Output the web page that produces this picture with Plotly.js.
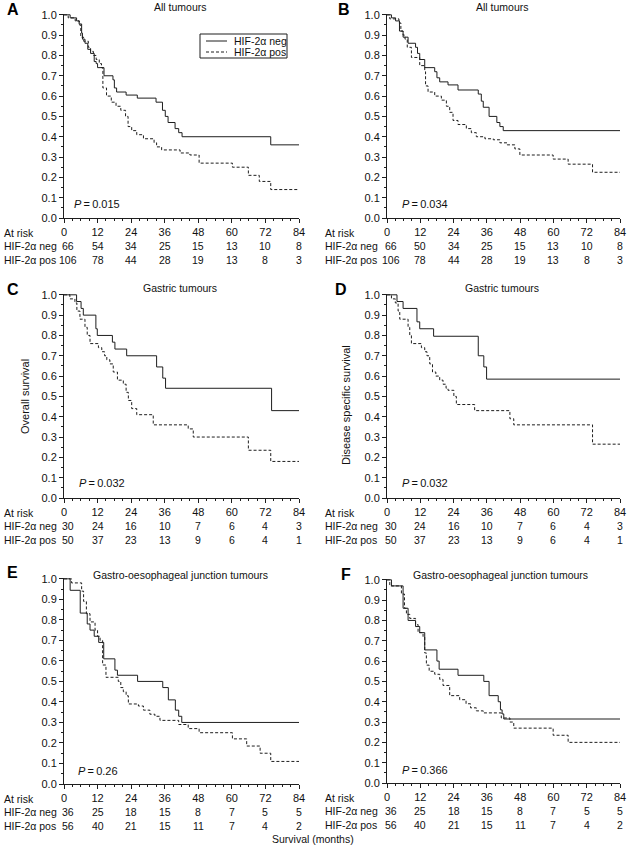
<!DOCTYPE html>
<html>
<head>
<meta charset="utf-8">
<script src="https://cdn.plot.ly/plotly-3.0.1.min.js"></script>
<style>html,body{margin:0;padding:0;background:#fff;}#chart{width:627px;height:850px;}</style>
</head>
<body>
<div id="chart"></div>
<script>
// ---------------- DATA ----------------
const riskMonths = [0, 12, 24, 36, 48, 60, 72, 84];
const seriesNames = ['HIF-2\u03b1 neg', 'HIF-2\u03b1 pos'];

const panelLetters = ['A', 'B', 'C', 'D', 'E', 'F'];
const panelTitles = ['All tumours', 'All tumours', 'Gastric tumours', 'Gastric tumours',
  'Gastro-oesophageal junction tumours', 'Gastro-oesophageal junction tumours'];
const pValues = ['0.015', '0.034', '0.032', '0.032', '0.26', '0.366'];
const yTitles = ['', '', 'Overall survival', 'Disease specific survival', '', ''];

// Panel A
const aNegT = [0, 2.2, 4.5, 5.4, 6.3, 6.6, 7.5, 8.5, 9.5, 10.8, 11.5, 12.0, 14.3, 17.5, 18.0, 18.8, 22.2, 26.2, 32.9, 35.2, 36.2, 37.2, 39.7, 41.0, 42.2, 73.9, 84];
const aNegS = [1, 0.985, 0.97, 0.955, 0.91, 0.88, 0.86, 0.83, 0.81, 0.77, 0.76, 0.74, 0.70, 0.68, 0.64, 0.62, 0.605, 0.59, 0.57, 0.53, 0.50, 0.47, 0.44, 0.42, 0.40, 0.36, 0.36];
const aPosT = [0, 1.5, 4.0, 5.5, 6.0, 7.0, 8.7, 9.5, 10.5, 11.5, 12.6, 13.4, 13.9, 15.2, 16.9, 18.6, 20.3, 22.0, 22.9, 24.2, 26.0, 28.4, 32.2, 33.1, 34.9, 41.5, 45.0, 48.3, 60.2, 65.9, 69.8, 73.9, 84];
const aPosS = [1, 0.985, 0.97, 0.95, 0.89, 0.87, 0.84, 0.82, 0.80, 0.78, 0.76, 0.74, 0.64, 0.60, 0.57, 0.55, 0.53, 0.50, 0.45, 0.43, 0.41, 0.39, 0.37, 0.35, 0.335, 0.32, 0.31, 0.27, 0.25, 0.21, 0.18, 0.14, 0.14];
// Panel B
const bNegT = [0, 1.6, 3.1, 4.5, 5.8, 7.6, 10.3, 11.0, 11.8, 13.6, 17.2, 18.0, 19.0, 22.0, 25.6, 32.9, 34.0, 34.7, 36.8, 39.6, 40.7, 41.9, 84];
const bNegS = [1, 0.985, 0.97, 0.92, 0.89, 0.86, 0.84, 0.81, 0.78, 0.74, 0.72, 0.69, 0.67, 0.655, 0.63, 0.61, 0.575, 0.545, 0.50, 0.47, 0.45, 0.43, 0.43];
const bPosT = [0, 1.0, 4.3, 5.0, 5.8, 6.5, 7.3, 8.8, 11.8, 13.6, 13.9, 14.8, 17.2, 19.6, 21.4, 22.6, 23.8, 25.6, 28.6, 30.4, 32.2, 35.3, 38.3, 40.7, 43.3, 46.1, 47.9, 59.9, 65.3, 74.1, 84];
const bPosS = [1, 0.98, 0.96, 0.92, 0.90, 0.88, 0.84, 0.79, 0.75, 0.72, 0.65, 0.62, 0.60, 0.58, 0.55, 0.52, 0.48, 0.46, 0.44, 0.42, 0.40, 0.39, 0.385, 0.37, 0.36, 0.34, 0.31, 0.29, 0.265, 0.225, 0.225];
// Panel C
const cNegT = [0, 4.5, 6.1, 6.9, 11.4, 11.9, 17.3, 18.2, 22.4, 33.1, 35.3, 36.3, 74.2, 84];
const cNegS = [1, 0.967, 0.933, 0.90, 0.833, 0.80, 0.767, 0.733, 0.70, 0.645, 0.59, 0.54, 0.43, 0.43];
const cPosT = [0, 2.1, 3.9, 4.6, 5.7, 7.5, 8.3, 9.3, 12.3, 13.5, 14.5, 15.3, 16.4, 17.6, 19.1, 21.2, 22.2, 23.0, 24.2, 26.0, 31.9, 44.4, 46.2, 65.9, 73.9, 84];
const cPosS = [1, 0.98, 0.96, 0.92, 0.88, 0.84, 0.80, 0.76, 0.74, 0.72, 0.70, 0.68, 0.66, 0.62, 0.58, 0.56, 0.52, 0.48, 0.44, 0.41, 0.36, 0.34, 0.30, 0.235, 0.18, 0.18];
// Panel D
const dNegT = [0, 3.6, 5.8, 10.8, 11.8, 16.8, 32.9, 34.9, 35.9, 84];
const dNegS = [1, 0.967, 0.933, 0.867, 0.833, 0.796, 0.70, 0.645, 0.585, 0.585];
const dPosT = [0, 1.6, 3.0, 4.0, 4.6, 7.6, 8.2, 8.8, 12.4, 13.6, 14.4, 15.4, 16.4, 17.6, 19.0, 20.2, 21.3, 22.0, 24.1, 25.0, 31.6, 44.3, 45.7, 74.1, 84];
const dPosS = [1, 0.98, 0.96, 0.92, 0.88, 0.84, 0.80, 0.76, 0.74, 0.72, 0.70, 0.66, 0.62, 0.60, 0.58, 0.56, 0.54, 0.53, 0.50, 0.46, 0.43, 0.39, 0.36, 0.265, 0.265];
// Panel E
const eNegT = [0, 2.2, 5.8, 8.3, 9.3, 10.8, 12.4, 14.2, 18.2, 19.1, 26.3, 35.3, 37.3, 39.8, 41.0, 42.1, 84];
const eNegS = [1, 0.944, 0.833, 0.78, 0.75, 0.72, 0.69, 0.61, 0.555, 0.53, 0.50, 0.47, 0.41, 0.36, 0.33, 0.30, 0.30];
const ePosT = [0, 2.7, 6.3, 7.0, 8.0, 9.3, 11.1, 12.0, 12.9, 13.8, 15.0, 19.4, 20.3, 21.2, 22.2, 23.0, 26.6, 28.4, 30.7, 32.5, 34.3, 41.0, 44.4, 48.3, 60.2, 65.3, 70.1, 73.9, 84];
const ePosS = [1, 0.98, 0.94, 0.89, 0.83, 0.79, 0.75, 0.72, 0.70, 0.58, 0.52, 0.50, 0.47, 0.45, 0.43, 0.39, 0.38, 0.36, 0.34, 0.33, 0.31, 0.29, 0.27, 0.25, 0.22, 0.185, 0.15, 0.11, 0.11];
// Panel F
const fNegT = [0, 1.6, 5.8, 7.6, 10.3, 11.8, 13.6, 18.0, 18.8, 25.6, 34.9, 36.8, 40.1, 40.9, 41.5, 42.1, 84];
const fNegS = [1, 0.97, 0.86, 0.80, 0.77, 0.74, 0.655, 0.60, 0.56, 0.53, 0.50, 0.43, 0.40, 0.36, 0.34, 0.315, 0.315];
const fPosT = [0, 1.0, 5.2, 6.3, 7.0, 8.2, 10.3, 11.2, 13.0, 13.6, 14.2, 15.2, 17.2, 19.0, 20.2, 22.6, 26.2, 28.5, 30.1, 32.2, 34.7, 41.2, 44.3, 45.7, 59.9, 65.3, 84];
const fPosS = [1, 0.97, 0.93, 0.86, 0.83, 0.81, 0.78, 0.74, 0.72, 0.64, 0.58, 0.55, 0.535, 0.51, 0.48, 0.43, 0.41, 0.39, 0.37, 0.355, 0.345, 0.32, 0.30, 0.27, 0.235, 0.20, 0.20];

// Numbers at risk
const riskNegA = [66, 54, 34, 25, 15, 13, 10, 8];
const riskPosA = [106, 78, 44, 28, 19, 13, 8, 3];
const riskNegB = [66, 50, 34, 25, 15, 13, 10, 8];
const riskPosB = [106, 78, 44, 28, 19, 13, 8, 3];
const riskNegC = [30, 24, 16, 10, 7, 6, 4, 3];
const riskPosC = [50, 37, 23, 13, 9, 6, 4, 1];
const riskNegD = [30, 24, 16, 10, 7, 6, 4, 3];
const riskPosD = [50, 37, 23, 13, 9, 6, 4, 1];
const riskNegE = [36, 25, 18, 15, 8, 7, 5, 5];
const riskPosE = [56, 40, 21, 15, 11, 7, 4, 2];
const riskNegF = [36, 25, 18, 15, 8, 7, 5, 5];
const riskPosF = [56, 40, 21, 15, 11, 7, 4, 2];

const curves = [
  [aNegT, aNegS, aPosT, aPosS], [bNegT, bNegS, bPosT, bPosS],
  [cNegT, cNegS, cPosT, cPosS], [dNegT, dNegS, dPosT, dPosS],
  [eNegT, eNegS, ePosT, ePosS], [fNegT, fNegS, fPosT, fPosS]
];
const risks = [[riskNegA, riskPosA], [riskNegB, riskPosB], [riskNegC, riskPosC],
  [riskNegD, riskPosD], [riskNegE, riskPosE], [riskNegF, riskPosF]];

// ---------------- LAYOUT (pixel geometry) ----------------
const W = 627, H = 850;
const px = x => x / W;
const py = y => 1 - y / H;
const FONT = 'Liberation Sans, Arial, sans-serif';
const INK = '#1e1e1e';
const DASH = '3px,2px';
// plot area boxes [left, right, top, bottom] in px
const boxes = [
  [64, 299, 14, 218], [387, 620, 14, 218],
  [64, 299, 294, 498], [387, 620, 294, 498],
  [64, 299, 578, 784], [387, 620, 579, 783]
];
const letterPos = [[13, 9], [344, 9], [13, 289], [341, 289], [12, 572], [346, 574]];
const titlePos = [[180, 7], [502, 7], [180, 288], [502, 288], [180, 575], [501, 575]];
const pPos = [[2.9, 0.07], [4.6, 0.07], [4.7, 0.075], [4.6, 0.075], [4.3, 0.065], [4.6, 0.065]];
const yTitleX = [0, 0, 25, 346, 0, 0];
const yTitleY = [0, 0, 397, 405, 0, 0];
const rowLabelX = [2, 323, 2, 323, 2, 323];
// legend box (panel A) in px
const legBox = {x0: 200, x1: 287, y0: 34, y1: 58, lineX0: 206, lineX1: 227, textX: 232, rowY: [41, 52]};

const traces = [];
const layout = {
  width: W, height: H,
  margin: {l: 0, r: 0, t: 0, b: 0},
  paper_bgcolor: '#fff', plot_bgcolor: 'rgba(0,0,0,0)',
  font: {family: FONT, size: 11, color: '#111'},
  showlegend: false,
  annotations: [],
  shapes: []
};

boxes.forEach((b, i) => {
  const n = i + 1;
  const xa = 'x' + (n === 1 ? '' : n), ya = 'y' + (n === 1 ? '' : n);
  const xk = 'xaxis' + (n === 1 ? '' : n), yk = 'yaxis' + (n === 1 ? '' : n);
  layout[xk] = {
    domain: [px(b[0]), px(b[1])], anchor: ya,
    range: [0, 84], tickmode: 'array', tickvals: riskMonths,
    ticks: 'outside', ticklen: 4, tickwidth: 1, tickcolor: INK,
    minor: {dtick: 3, tick0: 0, ticks: 'outside', ticklen: 2, tickcolor: INK, showgrid: false},
    showline: true, linecolor: INK, linewidth: 1,
    showgrid: false, zeroline: false, fixedrange: true,
    tickfont: {family: FONT, size: 11, color: '#111'}
  };
  layout[yk] = {
    domain: [py(b[3]), py(b[2])], anchor: xa,
    range: [0, 1.004], dtick: 0.1, tick0: 0, tickformat: '.1f',
    ticks: 'outside', ticklen: 4, tickwidth: 1, tickcolor: INK,
    minor: {dtick: 0.05, tick0: 0, ticks: 'outside', ticklen: 2, tickcolor: INK, showgrid: false},
    showline: true, linecolor: INK, linewidth: 1,
    showgrid: false, zeroline: false, fixedrange: true,
    tickfont: {family: FONT, size: 11, color: '#111'}
  };
  const c = curves[i];
  traces.push({
    type: 'scatter', mode: 'lines', x: c[0], y: c[1], xaxis: xa, yaxis: ya,
    line: {shape: 'hv', color: INK, width: 1},
    name: seriesNames[0], hoverinfo: 'skip'
  });
  traces.push({
    type: 'scatter', mode: 'lines', x: c[2], y: c[3], xaxis: xa, yaxis: ya,
    line: {shape: 'hv', color: INK, width: 1, dash: DASH},
    name: seriesNames[1], hoverinfo: 'skip'
  });

  // panel letter
  layout.annotations.push({
    text: '<b>' + panelLetters[i] + '</b>', xref: 'paper', yref: 'paper',
    x: px(letterPos[i][0]), y: py(letterPos[i][1]), xanchor: 'center', yanchor: 'middle',
    showarrow: false, font: {family: FONT, size: 16, color: '#000'}
  });
  // panel title
  layout.annotations.push({
    text: panelTitles[i], xref: 'paper', yref: 'paper',
    x: px(titlePos[i][0]), y: py(titlePos[i][1]), xanchor: 'center', yanchor: 'middle',
    showarrow: false, font: {family: FONT, size: 10.5, color: '#111'}
  });
  // P value
  layout.annotations.push({
    text: '<i>P</i>\u2009=\u2009' + pValues[i], xref: xa, yref: ya,
    x: pPos[i][0], y: pPos[i][1], xanchor: 'left', yanchor: 'middle',
    showarrow: false, font: {family: FONT, size: 11, color: '#111'}
  });
  // y title
  if (yTitles[i]) {
    layout.annotations.push({
      text: yTitles[i], xref: 'paper', yref: 'paper', textangle: -90,
      x: px(yTitleX[i]), y: py(yTitleY[i]), xanchor: 'center', yanchor: 'middle',
      showarrow: false, font: {family: FONT, size: 11, color: '#111'}
    });
  }
  // at-risk rows
  const rowY = [b[3] + 15, b[3] + 28, b[3] + 42];
  const rowText = ['At risk', seriesNames[0], seriesNames[1]];
  rowText.forEach((t, k) => {
    layout.annotations.push({
      text: t, xref: 'paper', yref: 'paper', x: px(rowLabelX[i]), y: py(rowY[k]),
      xanchor: 'left', yanchor: 'middle', showarrow: false,
      font: {family: FONT, size: 10.5, color: '#111'}
    });
  });
  [0, 1].forEach(g => {
    riskMonths.forEach((m, k) => {
      layout.annotations.push({
        text: String(risks[i][g][k]), xref: xa, yref: 'paper', x: m, y: py(rowY[g + 1]),
        xanchor: 'center', yanchor: 'middle', showarrow: false, xshift: k === 0 ? 4 : 0,
        font: {family: FONT, size: 10.5, color: '#111'}
      });
    });
  });
});

// legend (panel A), drawn as a framed key
layout.shapes.push({
  type: 'rect', xref: 'paper', yref: 'paper',
  x0: px(legBox.x0), x1: px(legBox.x1), y0: py(legBox.y1), y1: py(legBox.y0),
  line: {color: INK, width: 1}, fillcolor: '#fff'
});
[0, 1].forEach(g => {
  layout.shapes.push({
    type: 'line', xref: 'paper', yref: 'paper',
    x0: px(legBox.lineX0), x1: px(legBox.lineX1), y0: py(legBox.rowY[g]), y1: py(legBox.rowY[g]),
    line: {color: INK, width: 1, dash: g === 0 ? 'solid' : DASH}
  });
  layout.annotations.push({
    text: seriesNames[g], xref: 'paper', yref: 'paper',
    x: px(legBox.textX), y: py(legBox.rowY[g]), xanchor: 'left', yanchor: 'middle',
    showarrow: false, font: {family: FONT, size: 10.5, color: '#111'}
  });
});

layout.annotations.push({
  text: 'Survival (months)', xref: 'paper', yref: 'paper', x: px(313), y: py(839),
  xanchor: 'center', yanchor: 'middle', showarrow: false,
  font: {family: FONT, size: 10.5, color: '#111'}
});

Plotly.newPlot('chart', traces, layout, {staticPlot: true, displayModeBar: false});
</script>
</body>
</html>
